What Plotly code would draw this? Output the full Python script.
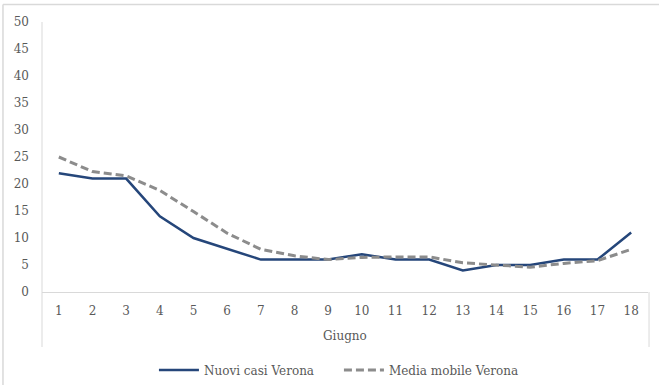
import plotly.graph_objects as go

days = list(range(1, 19))
day_labels = [str(d) for d in days]
nuovi_casi = [22, 21, 21, 14, 10, 8, 6, 6, 6, 7, 6, 6, 4, 5, 5, 6, 6, 11]
media_mobile = [25, 22.3, 21.5, 18.8, 14.9, 10.9, 7.9, 6.7, 6.0, 6.4, 6.5, 6.5, 5.4, 5.0, 4.6, 5.3, 5.8, 7.9]
y_ticks = list(range(0, 55, 5))
month_label = "Giugno"

FONT = "DejaVu Serif"
TXT = "#595959"

fig = go.Figure()
fig.add_trace(go.Scatter(x=days, y=nuovi_casi, mode="lines", name="Nuovi casi Verona",
                         line=dict(color="#25467a", width=2.5)))
fig.add_trace(go.Scatter(x=days, y=media_mobile, mode="lines", name="Media mobile Verona",
                         line=dict(color="#8c8c8c", width=3, dash="8px,4px")))

fig.update_layout(
    width=659, height=385,
    margin=dict(l=42, r=11, t=22, b=93, autoexpand=False),
    paper_bgcolor="white", plot_bgcolor="white",
    font=dict(family=FONT, size=12, color=TXT),
    showlegend=True,
    legend=dict(orientation="h", x=0.49, xanchor="center", y=-0.235, yanchor="top",
                font=dict(family=FONT, size=12, color=TXT), itemwidth=40,
                entrywidth=130, traceorder="normal"),
    xaxis=dict(range=[0.5, 18.5], tickmode="array", tickvals=days, ticktext=day_labels,
               showgrid=False, zeroline=False, showline=True, linecolor="#d9d9d9", linewidth=1,
               ticks="", ticklabelstandoff=8, tickfont=dict(size=12, color=TXT), automargin=False),
    yaxis=dict(range=[0, 50], tickvals=y_ticks, showgrid=False, zeroline=False,
               showline=False, ticks="", ticklabelstandoff=12, tickfont=dict(size=12, color=TXT),
               automargin=False),
)

shapes = []
shapes.append(dict(type="line", xref="paper", yref="paper", x0=0, x1=0, y0=1, y1=-0.2037,
                   line=dict(color="#d9d9d9", width=1)))
shapes.append(dict(type="line", xref="paper", yref="paper", x0=1.0017, x1=1.0017, y0=0, y1=-0.2037,
                   line=dict(color="#d9d9d9", width=1)))
shapes.append(dict(type="line", xref="paper", yref="paper", x0=-0.0644, x1=1.05, y0=1.0648, y1=1.0648,
                   line=dict(color="#d9d9d9", width=1.5)))
shapes.append(dict(type="line", xref="paper", yref="paper", x0=-0.0644, x1=-0.0644, y0=1.0648, y1=-0.35,
                   line=dict(color="#d9d9d9", width=1.5)))
fig.update_layout(shapes=shapes)

fig.add_annotation(text=month_label, xref="paper", yref="paper", x=0.5, y=-0.163,
                   showarrow=False, font=dict(family=FONT, size=12, color=TXT),
                   xanchor="center", yanchor="middle")

fig.write_html("out.html", config={"displayModeBar": False},
               post_script="document.body.style.margin='0';")
